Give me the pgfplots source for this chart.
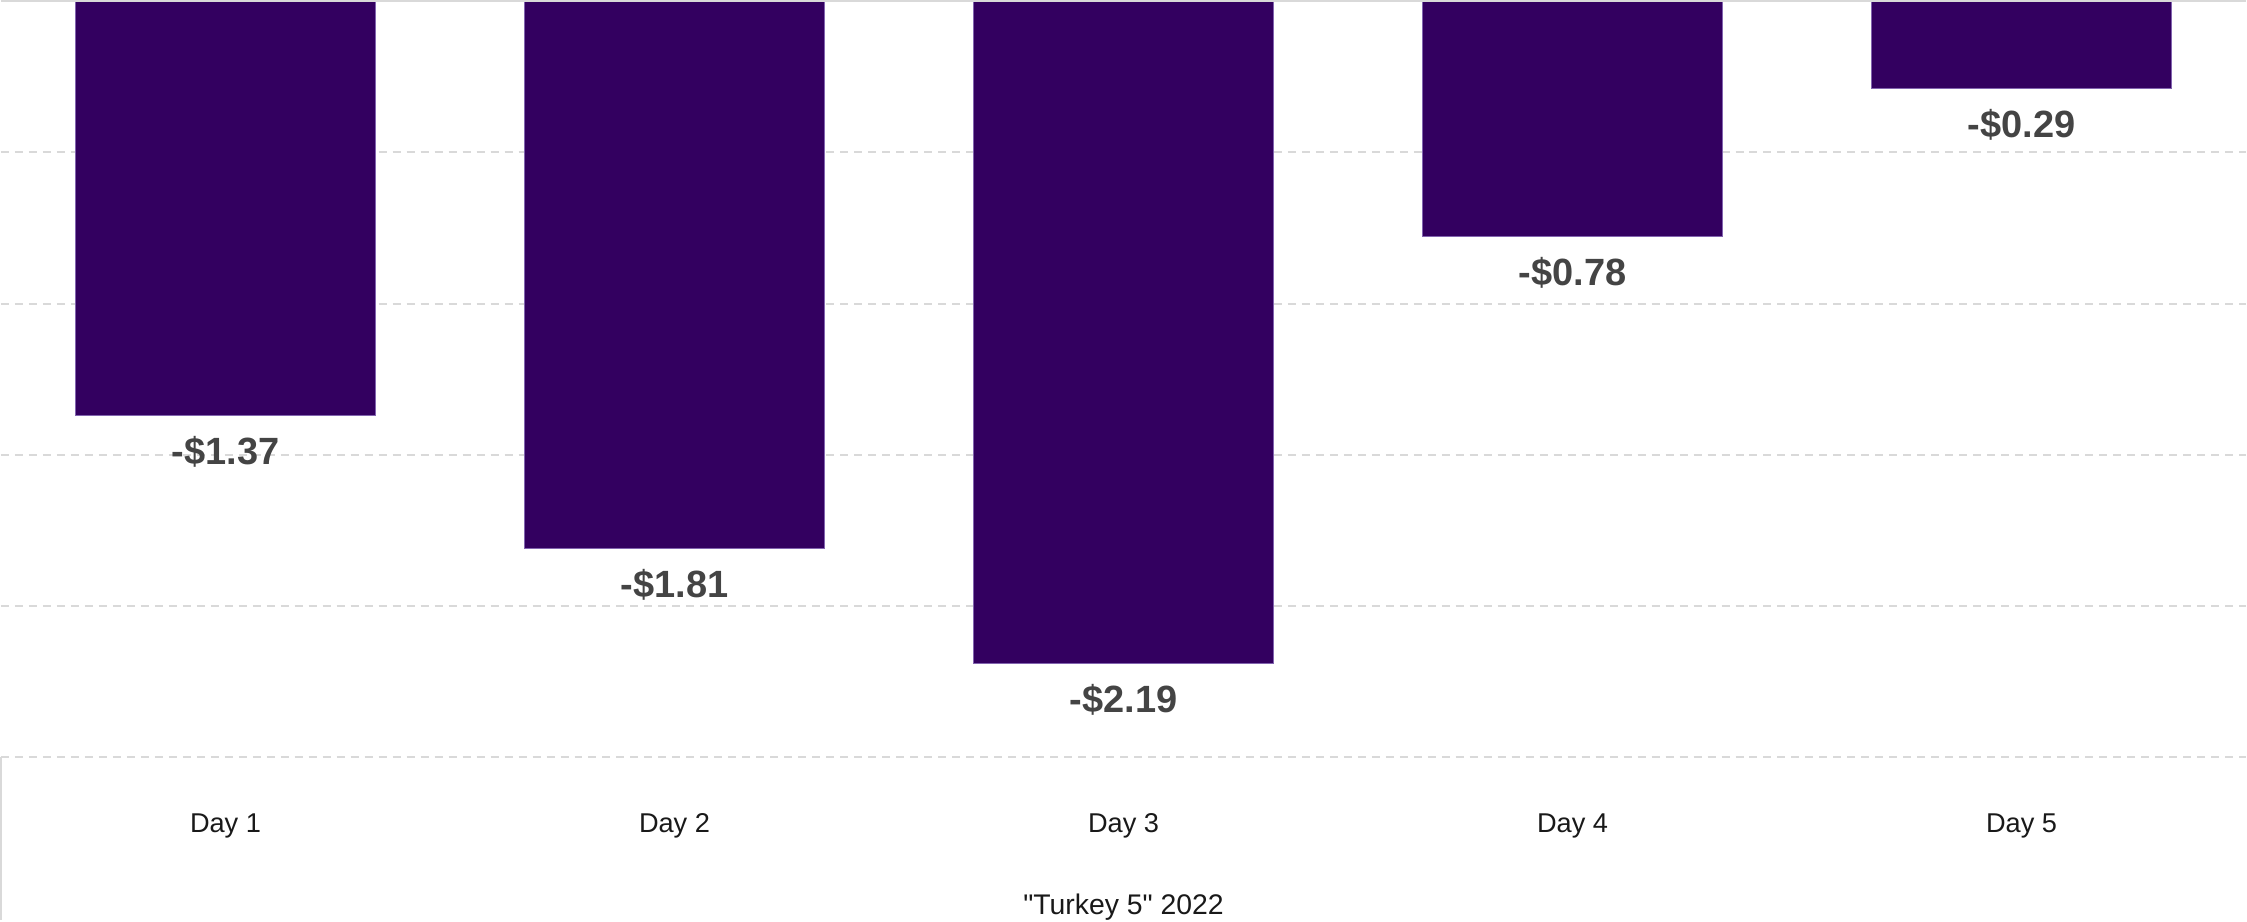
\documentclass[border=0pt]{standalone}
\usepackage{fontspec}
\setmainfont{Liberation Sans}[Ligatures=TeXOff]
\usepackage{pgfplots}
\pgfplotsset{compat=1.18}
\definecolor{barfill}{RGB}{51,0,96}
\definecolor{baredge}{RGB}{130,100,175}
\definecolor{gridgray}{RGB}{217,217,217}
\definecolor{labelgray}{RGB}{68,68,68}
\begin{document}
\begin{tikzpicture}
\begin{axis}[
  scale only axis,
  width=561.75pt, height=189.25pt,
  xmin=-0.5, xmax=4.5, ymin=-2.5, ymax=0,
  enlargelimits=false,
  clip=false,
  axis line style={draw=none},
  ybar, bar width=75pt,
  xtick={0,1,2,3,4},
  xticklabels={Day 1,Day 2,Day 3,Day 4,Day 5},
  x tick label style={font=\fontsize{6.8pt}{8pt}\selectfont, text=black!90, anchor=center, yshift=-17.25pt},
  ytick={-2.5,-2,-1.5,-1,-0.5},
  yticklabels={},
  y tick label style={overlay},
  major tick length=0pt,
  ymajorgrids,
  grid style={gridgray, line width=0.5pt, dash pattern=on 2pt off 1.5pt},
  xlabel={"Turkey 5" 2022},
  xlabel style={at={(axis description cs:0.5,0)}, anchor=center, yshift=-37.5pt, inner sep=0pt,
    font=\fontsize{7.1pt}{8pt}\selectfont, text=black!90},
  point meta=explicit,
  nodes near coords={-\$\pgfmathprintnumber[fixed,fixed zerofill,precision=2,assume math mode=true]{\pgfplotspointmeta}},
  every node near coord/.append style={anchor=center, yshift=-9pt,
    font=\fontsize{9.5pt}{11pt}\selectfont\bfseries, text=labelgray},
]
\addplot[fill=barfill, draw=baredge, line width=0.25pt]
  coordinates {(0,-1.37) [1.37] (1,-1.81) [1.81] (2,-2.19) [2.19] (3,-0.78) [0.78] (4,-0.29) [0.29]};
\draw[gridgray, line width=0.5pt] (rel axis cs:0,1) -- (rel axis cs:1,1);
\end{axis}
\draw[gridgray, line width=0.5pt] (current axis.south west) -- ++(0,-40.75pt);
\end{tikzpicture}
\end{document}
